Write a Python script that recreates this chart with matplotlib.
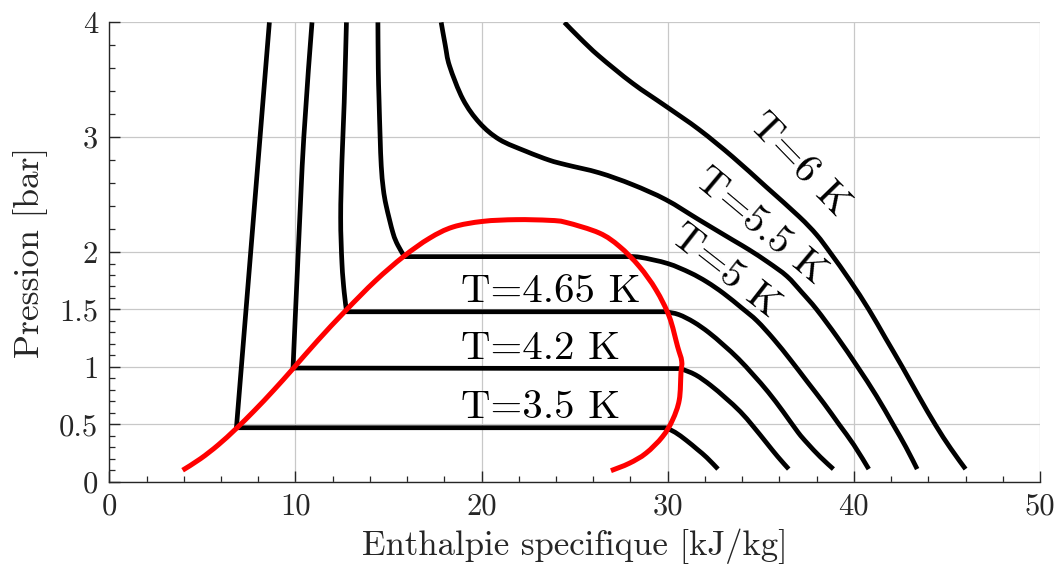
import matplotlib

matplotlib.use("Agg")
import matplotlib.pyplot as plt
import numpy as np
from matplotlib.patches import PathPatch
from matplotlib.path import Path
from matplotlib.ticker import FixedLocator

plt.rcParams["font.family"] = ["cmr10", "DejaVu Serif"]
plt.rcParams["axes.formatter.use_mathtext"] = True

# saturation dome (kJ/kg, bar)
dome_h = [3.94, 4.9, 5.85, 6.8, 7.8, 8.85, 9.9, 11.2, 12.7, 14.3, 15.8, 17.2,
          18.46, 20.06, 21.86, 23.64, 24.54, 26.32, 27.4, 28.47, 29.37, 30.08, 30.53,
          30.75, 30.71, 30.62, 30.26, 29.72, 28.83, 27.93, 26.95]
dome_p = [0.10, 0.20, 0.32, 0.46, 0.62, 0.80, 0.99, 1.23, 1.49, 1.75, 1.96, 2.12,
          2.218, 2.267, 2.282, 2.276, 2.258, 2.166, 2.05, 1.875, 1.671, 1.439, 1.177,
          1.05, 0.945, 0.712, 0.538, 0.392, 0.248, 0.16, 0.096]

# isothermes : branche liquide (haut -> palier) et branche vapeur (palier -> bas)
liq_35_h = [8.6, 6.83]
liq_35_p = [4.0, 0.47]
vap_35_h = [29.9, 30.4, 31.0, 31.6, 32.1, 32.7]
vap_35_p = [0.47, 0.43, 0.36, 0.28, 0.21, 0.11]

liq_42_h = [10.89, 10.45, 10.15, 9.87]
liq_42_p = [4.0, 3.0, 2.0, 0.99]
vap_42_h = [30.7, 31.5, 32.3, 33.1, 33.9, 34.6, 35.3, 35.9, 36.5]
vap_42_p = [0.985, 0.93, 0.84, 0.73, 0.61, 0.48, 0.34, 0.22, 0.11]

liq_465_h = [12.74, 12.62, 12.5, 12.43, 12.5, 12.62, 12.75]
liq_465_p = [4.0, 3.3, 2.8, 2.3, 1.9, 1.65, 1.48]
vap_465_h = [29.9, 30.6, 31.4, 32.2, 33.0, 33.8, 34.6, 35.4, 36.2, 37.0, 37.5, 38.2, 38.9]
vap_465_p = [1.48, 1.455, 1.39, 1.30, 1.19, 1.07, 0.93, 0.78, 0.61, 0.43, 0.335, 0.215, 0.11]

liq_5_h = [14.43, 14.45, 14.49, 14.55, 14.61, 14.72, 14.88, 15.24, 15.5, 15.86]
liq_5_p = [4.0, 3.6, 3.33, 3.0, 2.75, 2.55, 2.40, 2.166, 2.06, 1.96]
vap_5_h = [27.7, 28.5, 30.0, 31.2, 32.1, 33.0, 34.0, 34.8, 35.7, 36.6, 37.5, 38.4, 39.2, 40.0, 40.8]
vap_5_p = [1.96, 1.955, 1.90, 1.82, 1.74, 1.64, 1.51, 1.40, 1.24, 1.06, 0.87, 0.68, 0.50, 0.32, 0.11]

sup_55_h = [17.83, 18.05, 18.28, 19.0, 19.89, 20.96, 22.39, 23.64, 24.54, 26.32, 28.11, 29.9,
            31.69, 33.48, 34.37, 35.4, 36.4, 37.2, 38.0, 39.1, 40.2, 41.2, 42.1, 42.8, 43.4]
sup_55_p = [4.0, 3.8, 3.62, 3.33, 3.125, 2.98, 2.877, 2.80, 2.76, 2.69, 2.587, 2.456,
            2.28, 2.106, 2.02, 1.91, 1.79, 1.65, 1.50, 1.26, 1.00, 0.75, 0.50, 0.30, 0.11]

sup_6_h = [24.45, 25.3, 26.32, 28.11, 29.9, 31.69, 33.48, 35.27, 37.05, 38.0, 38.75, 39.8,
           40.8, 41.7, 42.6, 43.5, 44.4, 45.2, 46.0]
sup_6_p = [4.0, 3.86, 3.705, 3.47, 3.27, 3.066, 2.83, 2.57, 2.31, 2.15, 1.99, 1.75,
           1.50, 1.25, 1.00, 0.74, 0.49, 0.29, 0.11]

diphasiques = [
    (liq_35_h, liq_35_p, vap_35_h, vap_35_p),
    (liq_42_h, liq_42_p, vap_42_h, vap_42_p),
    (liq_465_h, liq_465_p, vap_465_h, vap_465_p),
    (liq_5_h, liq_5_p, vap_5_h, vap_5_p),
]
supercritiques = [(sup_55_h, sup_55_p), (sup_6_h, sup_6_p)]

# étiquettes
labels_flat = [("T=4.65 K", 18.9, 1.569), ("T=4.2 K", 18.9, 1.067), ("T=3.5 K", 18.9, 0.553)]
labels_rot = [("T=6 K", 37.05, 2.76, -46), ("T=5.5 K", 34.95, 2.22, -40), ("T=5 K", 33.1, 1.83, -38)]

x_ticks = [0, 10, 20, 30, 40, 50]
y_ticks = [0, 0.5, 1, 1.5, 2, 3, 4]
y_tick_labels = ["0", "0.5", "1", "1.5", "2", "3", "4"]
y_minor = [i / 10 for i in range(0, 21)] + [2.2, 2.4, 2.6, 2.8, 3.2, 3.4, 3.6, 3.8]

dark = "#262626"


def _smooth(h, p, start=True):
    """Courbe de Bezier (Catmull-Rom) passant par les points lus."""
    pts = np.column_stack([h, p]).astype(float)
    n = len(pts)
    verts = [pts[0]]
    codes = [Path.MOVETO if start else Path.LINETO]
    for i in range(n - 1):
        p0 = pts[i - 1] if i > 0 else pts[i]
        p1, p2 = pts[i], pts[i + 1]
        p3 = pts[i + 2] if i + 2 < n else pts[i + 1]
        verts += [p1 + (p2 - p0) / 6, p2 - (p3 - p1) / 6, p2]
        codes += [Path.CURVE4] * 3
    return verts, codes


def _draw(ax, parts, color, lw, z):
    verts, codes = [], []
    for k, (h, p) in enumerate(parts):
        v, c = _smooth(h, p, start=(k == 0))
        verts += v
        codes += c
    ax.add_patch(PathPatch(Path(verts, codes), fill=False, edgecolor=color, lw=lw,
                           capstyle="butt", joinstyle="round", zorder=z))


fig = plt.figure(figsize=(10.58, 5.74), dpi=100)
ax = fig.add_axes([0.1033, 0.1608, 0.8797, 0.8002])

for lh, lp, vh, vp in diphasiques:
    _draw(ax, [(lh, lp), (vh, vp)], "black", 3.4, 3)
for h, p in supercritiques:
    _draw(ax, [(h, p)], "black", 3.4, 3)
_draw(ax, [(dome_h, dome_p)], "red", 3.6, 4)

for txt, h, p in labels_flat:
    ax.text(h, p, txt, fontsize=29.5, ha="left", va="baseline", color="black", zorder=5)
for txt, h, p, ang in labels_rot:
    ax.text(h, p, txt, fontsize=29.5, ha="center", va="center", rotation=ang,
            rotation_mode="anchor", color="black", zorder=5)

ax.set_xlim(0, 50)
ax.set_ylim(0, 4)
ax.xaxis.set_major_locator(FixedLocator(x_ticks))
ax.xaxis.set_minor_locator(FixedLocator(list(range(0, 51, 2))))
ax.yaxis.set_major_locator(FixedLocator(y_ticks))
ax.yaxis.set_minor_locator(FixedLocator(y_minor))
ax.set_yticklabels(y_tick_labels)
ax.set_xticklabels([str(v) for v in x_ticks])

ax.grid(True, which="major", color="#c8c8c8", lw=0.9)
ax.set_axisbelow(True)
ax.spines["top"].set_visible(False)
ax.spines["right"].set_visible(False)
for s in ("left", "bottom"):
    ax.spines[s].set_color(dark)
    ax.spines[s].set_linewidth(1.0)

ax.tick_params(which="both", direction="in", top=False, right=False, colors=dark,
               labelsize=22, labelcolor=dark)
ax.tick_params(which="major", length=7.7, width=1.0, pad=8)
ax.tick_params(which="minor", length=4.1, width=0.9)

ax.set_xlabel("Enthalpie specifique [kJ/kg]", fontsize=25, color=dark, labelpad=6)
ax.set_ylabel("Pression [bar]", fontsize=25.5, color=dark, labelpad=8)

fig.savefig("out.png", dpi=100)
